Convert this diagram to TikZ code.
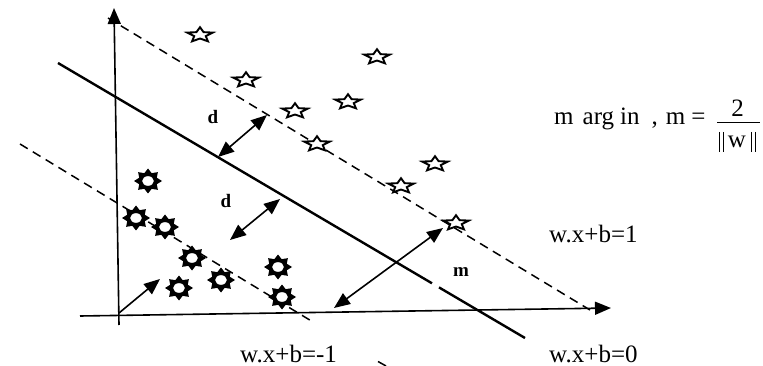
\documentclass[tikz,border=0pt]{standalone}
\usepackage{fontspec}
\setmainfont{Liberation Serif}
\usetikzlibrary{arrows.meta}
\begin{document}
\begin{tikzpicture}[x=1pt,y=-1pt,
  axis/.style={line width=1.6pt,-{Triangle[length=16pt,width=13pt]}},
  sepline/.style={line width=2.4pt},
  marginline/.style={line width=1.5pt,dash pattern=on 9pt off 6pt},
  dbl/.style={line width=1.6pt,{Triangle[length=16pt,width=13pt]}-{Triangle[length=16pt,width=13pt]}},
  sgl/.style={line width=1.6pt,-{Triangle[length=16pt,width=13pt]}},
  lbl/.style={font=\fontsize{25}{28}\selectfont,inner sep=0pt,text depth=0pt},
  blbl/.style={font=\fontsize{19}{22}\selectfont\bfseries,inner sep=0pt},
  bar/.style={line width=1pt},
  openstar/.pic={
    \draw[line width=1.9pt,fill=white,line join=miter,xscale=13.5,yscale=-7.8]
      (90:1) -- (126:0.45) -- (162:1) -- (198:0.45) -- (234:1) -- (270:0.45)
      -- (306:1) -- (342:0.45) -- (18:1) -- (54:0.45) -- cycle;
  },
  sun/.pic={
    \fill[xscale=14,yscale=-12.5]
      (0:1) -- (22.5:0.68) -- (45:1) -- (67.5:0.68) -- (90:1) -- (112.5:0.68)
      -- (135:1) -- (157.5:0.68) -- (180:1) -- (202.5:0.68) -- (225:1)
      -- (247.5:0.68) -- (270:1) -- (292.5:0.68) -- (315:1) -- (337.5:0.68) -- cycle;
    \fill[white] (0,0) ellipse [x radius=5.8pt, y radius=4.8pt];
  }
]
\useasboundingbox (0,0) rectangle (763,366);

% coordinates
\coordinate (yb) at (119,325);
\coordinate (yt) at (114,8);
\coordinate (xl) at (80,316);
\coordinate (xr) at (611,308);
\coordinate (s1) at (58,63);
\coordinate (s2) at (432,283.3);
\coordinate (s3) at (439,287.4);
\coordinate (s4) at (525,338);
\coordinate (u1) at (108,18);
\coordinate (u2) at (590,310);
\coordinate (l1) at (20,144);
\coordinate (l2) at (313,322);
\coordinate (l3) at (378,361.5);
\coordinate (l4) at (386,366);

% margin lines
\draw[marginline] (u1) -- (u2);
\draw[marginline] (l1) -- (l2);
\draw[line width=1.5pt] (l3) -- (l4);

% axes
\draw[axis] (yb) -- (yt);
\draw[axis] (xl) -- (xr);

% separating hyperplane
\draw[sepline] (s1) -- (s2);
\draw[sepline] (s3) -- (s4);

% positive class (open stars)
\foreach \p in {(200,35),(377,57),(246,80),(295,111),(348,102),(317,144),(435,164),(401,186),(456,223)}
  \pic at \p {openstar};

% negative class (suns)
\foreach \p in {(148,181),(136,218),(165,227),(192,258),(179,288),(221,280),(278,267),(282,297)}
  \pic at \p {sun};

% arrows
\coordinate (o) at (119,313);
\coordinate (w) at (160,279);
\draw[sgl] (o) -- (w);
\coordinate (da1) at (218,157);
\coordinate (da2) at (267,115);
\draw[dbl] (da1) -- (da2);
\coordinate (db1) at (230,240);
\coordinate (db2) at (280,199);
\draw[dbl] (db1) -- (db2);
\coordinate (ma1) at (334,308);
\coordinate (ma2) at (443,228);
\draw[dbl] (ma1) -- (ma2);

% labels
\node[blbl] (d1) at (213,117) {d};
\node[blbl] (d2) at (226,201) {d};
\node[blbl] (ml) at (461,272) {m};

\node[lbl,anchor=base west] (eq1) at (549,243) {w.x+b=1};
\node[lbl,anchor=base west] (eq0) at (549,362) {w.x+b=0};
\node[lbl,anchor=base west] (eqm1) at (240,362) {w.x+b=-1};

\node[lbl,anchor=base west] (marg) at (554,125)
  {m\hspace{9pt}arg\hspace{6pt}in\hspace{12pt},\hspace{8pt}m\hspace{6pt}=};
\node[lbl,anchor=base] (two) at (737.5,117) {2};
\coordinate (fb1) at (717,123);
\coordinate (fb2) at (760,123);
\draw[bar] (fb1) -- (fb2);
\node[lbl,anchor=base] (wn) at (737,148) {w};
\foreach \xx in {719,723,751,755}
  \draw[bar] (\xx,132) -- (\xx,152);
\end{tikzpicture}
\end{document}
